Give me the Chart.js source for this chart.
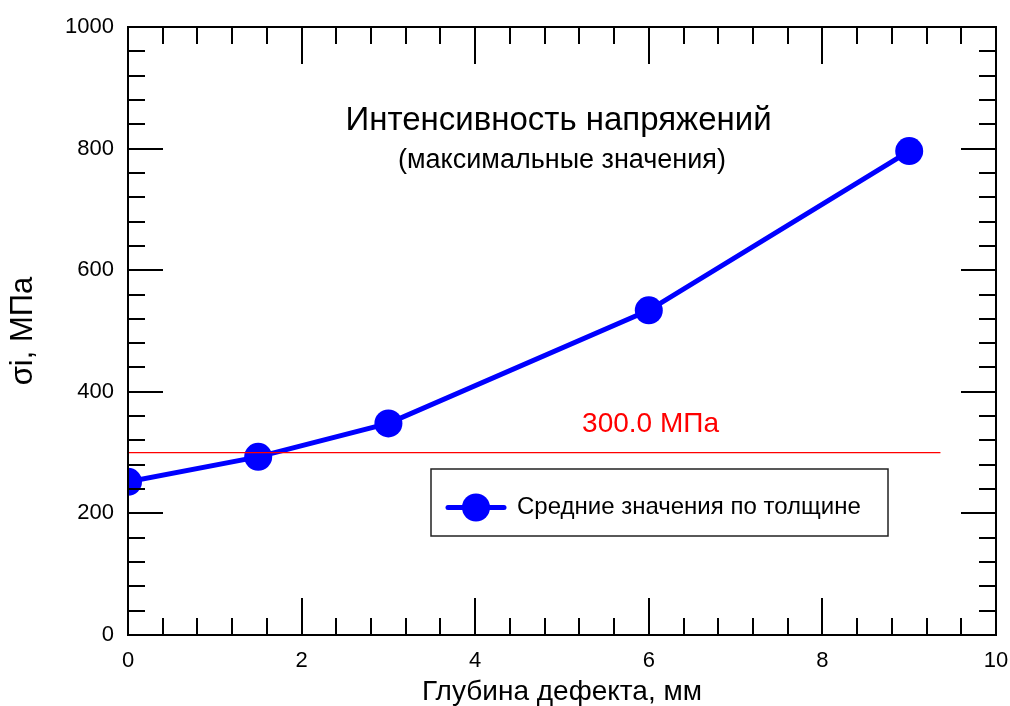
<!DOCTYPE html>
<html>
<head>
<meta charset="utf-8">
<script src="https://cdn.jsdelivr.net/npm/chart.js@4/dist/chart.umd.min.js"></script>
<style>
  html, body { margin: 0; padding: 0; background: #fff; }
  #wrap { width: 1010px; height: 706px; position: relative; }
</style>
</head>
<body>
<div id="wrap"><canvas id="chart"></canvas></div>
<script>
// Data
const depth = [0, 1.5, 3, 6, 9];
const stress = [252, 293, 348, 534, 796];
const limitX = [0, 9.36];
const limitY = [300, 300];
const xTicks = [0, 2, 4, 6, 8, 10];
const yTicks = [0, 200, 400, 600, 800, 1000];

const FONT = '"Liberation Sans", Arial, sans-serif';

// Inner ticks, frame, texts and legend
const decor = {
    id: 'decor',
    afterDatasetsDraw(chart) {
        const { ctx, chartArea: a, scales: { x, y } } = chart;
        ctx.save();
        ctx.strokeStyle = '#000';
        ctx.lineWidth = 2;

        // minor + major ticks on all four sides
        ctx.beginPath();
        for (let v = 0; v <= 10.0001; v += 0.4) {
            const px = Math.round(x.getPixelForValue(v));
            const major = Math.abs(v / 2 - Math.round(v / 2)) < 1e-6;
            const len = major ? 37 : 17;
            ctx.moveTo(px, a.bottom); ctx.lineTo(px, a.bottom - len);
            ctx.moveTo(px, a.top); ctx.lineTo(px, a.top + len);
        }
        for (let v = 0; v <= 1000.001; v += 40) {
            const py = Math.round(y.getPixelForValue(v));
            const major = v % 200 === 0;
            const len = major ? 35 : 17;
            ctx.moveTo(a.left, py); ctx.lineTo(a.left + len, py);
            ctx.moveTo(a.right, py); ctx.lineTo(a.right - len, py);
        }
        ctx.stroke();
        ctx.strokeRect(a.left, a.top, a.right - a.left, a.bottom - a.top);

        // titles inside plot
        ctx.fillStyle = '#000';
        ctx.textAlign = 'center';
        ctx.textBaseline = 'middle';
        ctx.font = '33px ' + FONT;
        ctx.fillText('Интенсивность напряжений', x.getPixelForValue(4.96), y.getPixelForValue(845));
        ctx.font = '27px ' + FONT;
        ctx.fillText('(максимальные значения)', x.getPixelForValue(5.0), y.getPixelForValue(780));

        ctx.fillStyle = '#ff0000';
        ctx.font = '28px ' + FONT;
        ctx.fillText('300.0 МПа', x.getPixelForValue(6.02), y.getPixelForValue(347));

        // legend box
        const lx = 431, ly = 469, lw = 457, lh = 67;
        ctx.fillStyle = '#fff';
        ctx.fillRect(lx, ly, lw, lh);
        ctx.lineWidth = 1.5;
        ctx.strokeStyle = '#222';
        ctx.strokeRect(lx, ly, lw, lh);
        const cy = ly + lh / 2 + 5;
        ctx.strokeStyle = '#0000ff';
        ctx.lineWidth = 5;
        ctx.lineCap = 'round';
        ctx.beginPath();
        ctx.moveTo(448, cy); ctx.lineTo(504, cy);
        ctx.stroke();
        ctx.fillStyle = '#0000ff';
        ctx.beginPath();
        ctx.arc(476, cy, 14, 0, Math.PI * 2);
        ctx.fill();
        ctx.fillStyle = '#000';
        ctx.textAlign = 'left';
        ctx.font = '24px ' + FONT;
        ctx.fillText('Средние значения по толщине', 517, cy);
        ctx.restore();
    }
};

new Chart(document.getElementById('chart'), {
    type: 'line',
    data: {
        datasets: [
            {
                label: '300 МПа',
                data: limitX.map((v, i) => ({ x: v, y: limitY[i] })),
                borderColor: '#ff0000',
                borderWidth: 1.2,
                pointRadius: 0,
                fill: false
            },
            {
                label: 'Средние значения по толщине',
                data: depth.map((v, i) => ({ x: v, y: stress[i] })),
                borderColor: '#0000ff',
                backgroundColor: '#0000ff',
                borderWidth: 5,
                pointRadius: 14,
                pointBorderWidth: 0,
                pointBackgroundColor: '#0000ff',
                fill: false,
                tension: 0
            }
        ]
    },
    options: {
        responsive: true,
        maintainAspectRatio: false,
        animation: false,
        layout: { padding: { top: 27, right: 14, left: 0, bottom: 0 } },
        plugins: {
            legend: { display: false },
            tooltip: { enabled: false }
        },
        scales: {
            x: {
                type: 'linear',
                min: 0,
                max: 10,
                afterFit: (s) => { s.height = 71; s.paddingLeft = 0; s.paddingRight = 0; },
                afterBuildTicks: (s) => { s.ticks = xTicks.map(v => ({ value: v })); },
                grid: { display: false, drawTicks: false },
                border: { display: false },
                ticks: { color: '#000', padding: 13, font: { family: FONT, size: 22 }, callback: v => String(v) },
                title: {
                    display: true,
                    text: 'Глубина дефекта, мм',
                    color: '#000',
                    padding: { top: 0, bottom: 0 },
                    font: { family: FONT, size: 28, lineHeight: 1 }
                }
            },
            y: {
                min: 0,
                max: 1000,
                afterFit: (s) => { s.width = 128; s.paddingTop = 0; s.paddingBottom = 0; },
                afterBuildTicks: (s) => { s.ticks = yTicks.map(v => ({ value: v })); },
                grid: { display: false, drawTicks: false },
                border: { display: false },
                ticks: { color: '#000', padding: 14, font: { family: FONT, size: 22 }, callback: v => String(v) },
                title: {
                    display: true,
                    text: 'σi, МПа',
                    color: '#000',
                    padding: { top: 5, bottom: 0 },
                    font: { family: FONT, size: 31, lineHeight: 1.2 }
                }
            }
        }
    },
    plugins: [decor]
});
</script>
</body>
</html>
